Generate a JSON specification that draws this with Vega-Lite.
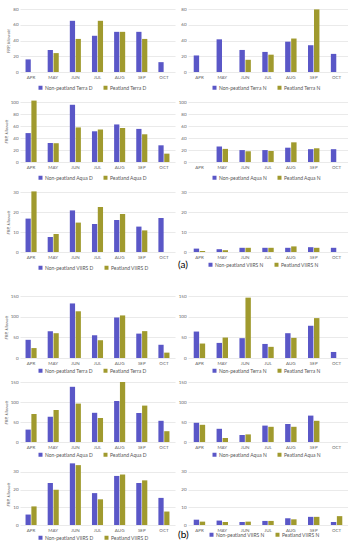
{
"$schema":"https://vega.github.io/schema/vega-lite/v6.json",
"background":"white",
"padding":{"left":3,"top":6,"right":0,"bottom":0},
"data":{"values":[
{"p":"aTD","m":"APR","s":"Non-peatland Terra D","v":16},{"p":"aTD","m":"MAY","s":"Non-peatland Terra D","v":28},{"p":"aTD","m":"JUN","s":"Non-peatland Terra D","v":65},{"p":"aTD","m":"JUL","s":"Non-peatland Terra D","v":46},{"p":"aTD","m":"AUG","s":"Non-peatland Terra D","v":51},{"p":"aTD","m":"SEP","s":"Non-peatland Terra D","v":51},{"p":"aTD","m":"OCT","s":"Non-peatland Terra D","v":12.5},
{"p":"aTD","m":"MAY","s":"Peatland Terra D","v":24},{"p":"aTD","m":"JUN","s":"Peatland Terra D","v":42},{"p":"aTD","m":"JUL","s":"Peatland Terra D","v":65},{"p":"aTD","m":"AUG","s":"Peatland Terra D","v":51},{"p":"aTD","m":"SEP","s":"Peatland Terra D","v":42},
{"p":"aTN","m":"APR","s":"Non-peatland Terra N","v":21},{"p":"aTN","m":"MAY","s":"Non-peatland Terra N","v":41.5},{"p":"aTN","m":"JUN","s":"Non-peatland Terra N","v":28},{"p":"aTN","m":"JUL","s":"Non-peatland Terra N","v":25.5},{"p":"aTN","m":"AUG","s":"Non-peatland Terra N","v":38.5},{"p":"aTN","m":"SEP","s":"Non-peatland Terra N","v":34},{"p":"aTN","m":"OCT","s":"Non-peatland Terra N","v":23},
{"p":"aTN","m":"JUN","s":"Peatland Terra N","v":15.5},{"p":"aTN","m":"JUL","s":"Peatland Terra N","v":22},{"p":"aTN","m":"AUG","s":"Peatland Terra N","v":42.5},{"p":"aTN","m":"SEP","s":"Peatland Terra N","v":79.5},
{"p":"aAD","m":"APR","s":"Non-peatland Aqua D","v":48.5},{"p":"aAD","m":"MAY","s":"Non-peatland Aqua D","v":32},{"p":"aAD","m":"JUN","s":"Non-peatland Aqua D","v":96},{"p":"aAD","m":"JUL","s":"Non-peatland Aqua D","v":51.5},{"p":"aAD","m":"AUG","s":"Non-peatland Aqua D","v":63},{"p":"aAD","m":"SEP","s":"Non-peatland Aqua D","v":55.5},{"p":"aAD","m":"OCT","s":"Non-peatland Aqua D","v":28},
{"p":"aAD","m":"APR","s":"Peatland Aqua D","v":103},{"p":"aAD","m":"MAY","s":"Peatland Aqua D","v":31.5},{"p":"aAD","m":"JUN","s":"Peatland Aqua D","v":58},{"p":"aAD","m":"JUL","s":"Peatland Aqua D","v":54.5},{"p":"aAD","m":"AUG","s":"Peatland Aqua D","v":57},{"p":"aAD","m":"SEP","s":"Peatland Aqua D","v":46.5},{"p":"aAD","m":"OCT","s":"Peatland Aqua D","v":14},
{"p":"aAN","m":"MAY","s":"Non-peatland Aqua N","v":26},{"p":"aAN","m":"JUN","s":"Non-peatland Aqua N","v":20},{"p":"aAN","m":"JUL","s":"Non-peatland Aqua N","v":20},{"p":"aAN","m":"AUG","s":"Non-peatland Aqua N","v":24},{"p":"aAN","m":"SEP","s":"Non-peatland Aqua N","v":21.5},{"p":"aAN","m":"OCT","s":"Non-peatland Aqua N","v":21.5},
{"p":"aAN","m":"MAY","s":"Peatland Aqua N","v":22},{"p":"aAN","m":"JUN","s":"Peatland Aqua N","v":18},{"p":"aAN","m":"JUL","s":"Peatland Aqua N","v":18.5},{"p":"aAN","m":"AUG","s":"Peatland Aqua N","v":33},{"p":"aAN","m":"SEP","s":"Peatland Aqua N","v":23},
{"p":"aVD","m":"APR","s":"Non-peatland VIIRS D","v":16.7},{"p":"aVD","m":"MAY","s":"Non-peatland VIIRS D","v":7.5},{"p":"aVD","m":"JUN","s":"Non-peatland VIIRS D","v":20.8},{"p":"aVD","m":"JUL","s":"Non-peatland VIIRS D","v":14},{"p":"aVD","m":"AUG","s":"Non-peatland VIIRS D","v":16},{"p":"aVD","m":"SEP","s":"Non-peatland VIIRS D","v":12.7},{"p":"aVD","m":"OCT","s":"Non-peatland VIIRS D","v":17},
{"p":"aVD","m":"APR","s":"Peatland VIIRS D","v":30.3},{"p":"aVD","m":"MAY","s":"Peatland VIIRS D","v":9},{"p":"aVD","m":"JUN","s":"Peatland VIIRS D","v":14.7},{"p":"aVD","m":"JUL","s":"Peatland VIIRS D","v":22.5},{"p":"aVD","m":"AUG","s":"Peatland VIIRS D","v":19},{"p":"aVD","m":"SEP","s":"Peatland VIIRS D","v":10.8},
{"p":"aVN","m":"APR","s":"Non-peatland VIIRS N","v":1.7},{"p":"aVN","m":"MAY","s":"Non-peatland VIIRS N","v":1.4},{"p":"aVN","m":"JUN","s":"Non-peatland VIIRS N","v":2.1},{"p":"aVN","m":"JUL","s":"Non-peatland VIIRS N","v":2.1},{"p":"aVN","m":"AUG","s":"Non-peatland VIIRS N","v":2.1},{"p":"aVN","m":"SEP","s":"Non-peatland VIIRS N","v":2.4},{"p":"aVN","m":"OCT","s":"Non-peatland VIIRS N","v":2.1},
{"p":"aVN","m":"APR","s":"Peatland VIIRS N","v":0.5},{"p":"aVN","m":"MAY","s":"Peatland VIIRS N","v":0.9},{"p":"aVN","m":"JUN","s":"Peatland VIIRS N","v":2.1},{"p":"aVN","m":"JUL","s":"Peatland VIIRS N","v":2.1},{"p":"aVN","m":"AUG","s":"Peatland VIIRS N","v":2.8},{"p":"aVN","m":"SEP","s":"Peatland VIIRS N","v":2.1},
{"p":"bTD","m":"APR","s":"Non-peatland Terra D","v":44},{"p":"bTD","m":"MAY","s":"Non-peatland Terra D","v":65},{"p":"bTD","m":"JUN","s":"Non-peatland Terra D","v":132},{"p":"bTD","m":"JUL","s":"Non-peatland Terra D","v":55},{"p":"bTD","m":"AUG","s":"Non-peatland Terra D","v":98},{"p":"bTD","m":"SEP","s":"Non-peatland Terra D","v":59},{"p":"bTD","m":"OCT","s":"Non-peatland Terra D","v":32},
{"p":"bTD","m":"APR","s":"Peatland Terra D","v":24},{"p":"bTD","m":"MAY","s":"Peatland Terra D","v":60},{"p":"bTD","m":"JUN","s":"Peatland Terra D","v":113},{"p":"bTD","m":"JUL","s":"Peatland Terra D","v":43},{"p":"bTD","m":"AUG","s":"Peatland Terra D","v":103},{"p":"bTD","m":"SEP","s":"Peatland Terra D","v":65},{"p":"bTD","m":"OCT","s":"Peatland Terra D","v":13},
{"p":"bTN","m":"APR","s":"Non-peatland Terra N","v":64},{"p":"bTN","m":"MAY","s":"Non-peatland Terra N","v":36.5},{"p":"bTN","m":"JUN","s":"Non-peatland Terra N","v":48},{"p":"bTN","m":"JUL","s":"Non-peatland Terra N","v":34},{"p":"bTN","m":"AUG","s":"Non-peatland Terra N","v":60},{"p":"bTN","m":"SEP","s":"Non-peatland Terra N","v":78},{"p":"bTN","m":"OCT","s":"Non-peatland Terra N","v":14.6},
{"p":"bTN","m":"APR","s":"Peatland Terra N","v":35},{"p":"bTN","m":"MAY","s":"Peatland Terra N","v":49.5},{"p":"bTN","m":"JUN","s":"Peatland Terra N","v":146},{"p":"bTN","m":"JUL","s":"Peatland Terra N","v":27},{"p":"bTN","m":"AUG","s":"Peatland Terra N","v":48.7},{"p":"bTN","m":"SEP","s":"Peatland Terra N","v":96.5},
{"p":"bAD","m":"APR","s":"Non-peatland Aqua D","v":31},{"p":"bAD","m":"MAY","s":"Non-peatland Aqua D","v":63},{"p":"bAD","m":"JUN","s":"Non-peatland Aqua D","v":138},{"p":"bAD","m":"JUL","s":"Non-peatland Aqua D","v":73},{"p":"bAD","m":"AUG","s":"Non-peatland Aqua D","v":102.5},{"p":"bAD","m":"SEP","s":"Non-peatland Aqua D","v":72.5},{"p":"bAD","m":"OCT","s":"Non-peatland Aqua D","v":53},
{"p":"bAD","m":"APR","s":"Peatland Aqua D","v":70},{"p":"bAD","m":"MAY","s":"Peatland Aqua D","v":80},{"p":"bAD","m":"JUN","s":"Peatland Aqua D","v":96},{"p":"bAD","m":"JUL","s":"Peatland Aqua D","v":60},{"p":"bAD","m":"AUG","s":"Peatland Aqua D","v":150},{"p":"bAD","m":"SEP","s":"Peatland Aqua D","v":91},{"p":"bAD","m":"OCT","s":"Peatland Aqua D","v":27},
{"p":"bAN","m":"APR","s":"Non-peatland Aqua N","v":48},{"p":"bAN","m":"MAY","s":"Non-peatland Aqua N","v":33},{"p":"bAN","m":"JUN","s":"Non-peatland Aqua N","v":17.5},{"p":"bAN","m":"JUL","s":"Non-peatland Aqua N","v":41},{"p":"bAN","m":"AUG","s":"Non-peatland Aqua N","v":45},{"p":"bAN","m":"SEP","s":"Non-peatland Aqua N","v":66},
{"p":"bAN","m":"APR","s":"Peatland Aqua N","v":43},{"p":"bAN","m":"MAY","s":"Peatland Aqua N","v":10},{"p":"bAN","m":"JUN","s":"Peatland Aqua N","v":19},{"p":"bAN","m":"JUL","s":"Peatland Aqua N","v":38},{"p":"bAN","m":"AUG","s":"Peatland Aqua N","v":38},{"p":"bAN","m":"SEP","s":"Peatland Aqua N","v":53},
{"p":"bVD","m":"APR","s":"Non-peatland VIIRS D","v":5.9},{"p":"bVD","m":"MAY","s":"Non-peatland VIIRS D","v":23.7},{"p":"bVD","m":"JUN","s":"Non-peatland VIIRS D","v":34.8},{"p":"bVD","m":"JUL","s":"Non-peatland VIIRS D","v":18},{"p":"bVD","m":"AUG","s":"Non-peatland VIIRS D","v":27.7},{"p":"bVD","m":"SEP","s":"Non-peatland VIIRS D","v":23.7},{"p":"bVD","m":"OCT","s":"Non-peatland VIIRS D","v":15.3},
{"p":"bVD","m":"APR","s":"Peatland VIIRS D","v":10.5},{"p":"bVD","m":"MAY","s":"Peatland VIIRS D","v":19.9},{"p":"bVD","m":"JUN","s":"Peatland VIIRS D","v":33.8},{"p":"bVD","m":"JUL","s":"Peatland VIIRS D","v":14.5},{"p":"bVD","m":"AUG","s":"Peatland VIIRS D","v":28.5},{"p":"bVD","m":"SEP","s":"Peatland VIIRS D","v":25.2},{"p":"bVD","m":"OCT","s":"Peatland VIIRS D","v":7.6},
{"p":"bVN","m":"APR","s":"Non-peatland VIIRS N","v":3},{"p":"bVN","m":"MAY","s":"Non-peatland VIIRS N","v":2.5},{"p":"bVN","m":"JUN","s":"Non-peatland VIIRS N","v":1.7},{"p":"bVN","m":"JUL","s":"Non-peatland VIIRS N","v":2.3},{"p":"bVN","m":"AUG","s":"Non-peatland VIIRS N","v":3.8},{"p":"bVN","m":"SEP","s":"Non-peatland VIIRS N","v":4.6},{"p":"bVN","m":"OCT","s":"Non-peatland VIIRS N","v":1.7},
{"p":"bVN","m":"APR","s":"Peatland VIIRS N","v":1.9},{"p":"bVN","m":"MAY","s":"Peatland VIIRS N","v":1.7},{"p":"bVN","m":"JUN","s":"Peatland VIIRS N","v":1.9},{"p":"bVN","m":"JUL","s":"Peatland VIIRS N","v":2.3},{"p":"bVN","m":"AUG","s":"Peatland VIIRS N","v":3.2},{"p":"bVN","m":"SEP","s":"Peatland VIIRS N","v":4.6},{"p":"bVN","m":"OCT","s":"Peatland VIIRS N","v":5}
]},
"vconcat":[
{"columns":2,"spacing":{"row":8,"column":3},
 "resolve":{"scale":{"x":"independent","y":"independent","xOffset":"independent","color":"independent"},"legend":{"color":"independent"}},
 "concat":[
  {"width":155,"height":63,"transform":[{"filter":"datum.p=='aTD'"}],"mark":"bar","encoding":{
   "x":{"field":"m","type":"nominal","title":null,"scale":{"domain":["APR","MAY","JUN","JUL","AUG","SEP","OCT"],"paddingInner":0.5,"paddingOuter":0.25}},
   "xOffset":{"field":"s","type":"nominal","scale":{"paddingInner":0.1}},
   "y":{"field":"v","type":"quantitative","title":"FRP, kilowatt","scale":{"domain":[0,80],"nice":false},"axis":{"values":[0,20,40,60,80]}},
   "color":{"field":"s","type":"nominal","scale":{"range":["#5a57c7","#a09a2e"]},"legend":{"orient":"none","direction":"horizontal","legendX":18,"legendY":76,"title":null}}}},
  {"width":160,"height":63,"transform":[{"filter":"datum.p=='aTN'"}],"mark":"bar","encoding":{
   "x":{"field":"m","type":"nominal","title":null,"scale":{"domain":["APR","MAY","JUN","JUL","AUG","SEP","OCT"],"paddingInner":0.5,"paddingOuter":0.25}},
   "xOffset":{"field":"s","type":"nominal","scale":{"paddingInner":0.1}},
   "y":{"field":"v","type":"quantitative","title":null,"scale":{"domain":[0,80],"nice":false},"axis":{"values":[0,20,40,60,80]}},
   "color":{"field":"s","type":"nominal","scale":{"range":["#5a57c7","#a09a2e"]},"legend":{"orient":"none","direction":"horizontal","legendX":24,"legendY":76,"title":null}}}},
  {"width":155,"height":62,"transform":[{"filter":"datum.p=='aAD'"}],"mark":"bar","encoding":{
   "x":{"field":"m","type":"nominal","title":null,"scale":{"domain":["APR","MAY","JUN","JUL","AUG","SEP","OCT"],"paddingInner":0.5,"paddingOuter":0.25}},
   "xOffset":{"field":"s","type":"nominal","scale":{"paddingInner":0.1}},
   "y":{"field":"v","type":"quantitative","title":"FRP, kilowatt","scale":{"domain":[0,104],"nice":false},"axis":{"values":[0,20,40,60,80,100]}},
   "color":{"field":"s","type":"nominal","scale":{"range":["#5a57c7","#a09a2e"]},"legend":{"orient":"none","direction":"horizontal","legendX":18,"legendY":75,"title":null}}}},
  {"width":160,"height":62,"transform":[{"filter":"datum.p=='aAN'"}],"mark":"bar","encoding":{
   "x":{"field":"m","type":"nominal","title":null,"scale":{"domain":["APR","MAY","JUN","JUL","AUG","SEP","OCT"],"paddingInner":0.5,"paddingOuter":0.25}},
   "xOffset":{"field":"s","type":"nominal","scale":{"paddingInner":0.1}},
   "y":{"field":"v","type":"quantitative","title":null,"scale":{"domain":[0,104],"nice":false},"axis":{"values":[0,20,40,60,80,100]}},
   "color":{"field":"s","type":"nominal","scale":{"range":["#5a57c7","#a09a2e"]},"legend":{"orient":"none","direction":"horizontal","legendX":24,"legendY":75,"title":null}}}},
  {"width":155,"height":60,"transform":[{"filter":"datum.p=='aVD'"}],"mark":"bar","encoding":{
   "x":{"field":"m","type":"nominal","title":null,"scale":{"domain":["APR","MAY","JUN","JUL","AUG","SEP","OCT"],"paddingInner":0.5,"paddingOuter":0.25}},
   "xOffset":{"field":"s","type":"nominal","scale":{"paddingInner":0.1}},
   "y":{"field":"v","type":"quantitative","title":"FRP, kilowatt","scale":{"domain":[0,30],"nice":false},"axis":{"values":[0,10,20,30]}},
   "color":{"field":"s","type":"nominal","scale":{"range":["#5a57c7","#a09a2e"]},"legend":{"orient":"none","direction":"horizontal","legendX":18,"legendY":73,"title":null}}}},
  {"width":160,"height":60,"transform":[{"filter":"datum.p=='aVN'"}],"mark":"bar","encoding":{
   "x":{"field":"m","type":"nominal","title":null,"scale":{"domain":["APR","MAY","JUN","JUL","AUG","SEP","OCT"],"paddingInner":0.5,"paddingOuter":0.25}},
   "xOffset":{"field":"s","type":"nominal","scale":{"paddingInner":0.1}},
   "y":{"field":"v","type":"quantitative","title":null,"scale":{"domain":[0,30],"nice":false},"axis":{"values":[0,10,20,30]}},
   "color":{"field":"s","type":"nominal","scale":{"range":["#5a57c7","#a09a2e"]},"legend":{"orient":"none","direction":"horizontal","legendX":-10,"legendY":70,"title":"(a)","titleOrient":"left","titleFontSize":10,"titleFontWeight":"normal","titleColor":"#000","titlePadding":20}}}}
 ]},
{"columns":2,"spacing":{"row":5,"column":3},
 "resolve":{"scale":{"x":"independent","y":"independent","xOffset":"independent","color":"independent"},"legend":{"color":"independent"}},
 "concat":[
  {"width":155,"height":62,"transform":[{"filter":"datum.p=='bTD'"}],"mark":"bar","encoding":{
   "x":{"field":"m","type":"nominal","title":null,"scale":{"domain":["APR","MAY","JUN","JUL","AUG","SEP","OCT"],"paddingInner":0.5,"paddingOuter":0.25}},
   "xOffset":{"field":"s","type":"nominal","scale":{"paddingInner":0.1}},
   "y":{"field":"v","type":"quantitative","title":"FRP, kilowatt","scale":{"domain":[0,150],"nice":false},"axis":{"values":[0,50,100,150]}},
   "color":{"field":"s","type":"nominal","scale":{"range":["#5a57c7","#a09a2e"]},"legend":{"orient":"none","direction":"horizontal","legendX":18,"legendY":72,"title":null}}}},
  {"width":160,"height":62,"transform":[{"filter":"datum.p=='bTN'"}],"mark":"bar","encoding":{
   "x":{"field":"m","type":"nominal","title":null,"scale":{"domain":["APR","MAY","JUN","JUL","AUG","SEP","OCT"],"paddingInner":0.5,"paddingOuter":0.25}},
   "xOffset":{"field":"s","type":"nominal","scale":{"paddingInner":0.1}},
   "y":{"field":"v","type":"quantitative","title":null,"scale":{"domain":[0,150],"nice":false},"axis":{"values":[0,50,100,150]}},
   "color":{"field":"s","type":"nominal","scale":{"range":["#5a57c7","#a09a2e"]},"legend":{"orient":"none","direction":"horizontal","legendX":24,"legendY":72,"title":null}}}},
  {"width":155,"height":60,"transform":[{"filter":"datum.p=='bAD'"}],"mark":"bar","encoding":{
   "x":{"field":"m","type":"nominal","title":null,"scale":{"domain":["APR","MAY","JUN","JUL","AUG","SEP","OCT"],"paddingInner":0.5,"paddingOuter":0.25}},
   "xOffset":{"field":"s","type":"nominal","scale":{"paddingInner":0.1}},
   "y":{"field":"v","type":"quantitative","title":"FRP, kilowatt","scale":{"domain":[0,150],"nice":false},"axis":{"values":[0,50,100,150]}},
   "color":{"field":"s","type":"nominal","scale":{"range":["#5a57c7","#a09a2e"]},"legend":{"orient":"none","direction":"horizontal","legendX":18,"legendY":70,"title":null}}}},
  {"width":160,"height":60,"transform":[{"filter":"datum.p=='bAN'"}],"mark":"bar","encoding":{
   "x":{"field":"m","type":"nominal","title":null,"scale":{"domain":["APR","MAY","JUN","JUL","AUG","SEP","OCT"],"paddingInner":0.5,"paddingOuter":0.25}},
   "xOffset":{"field":"s","type":"nominal","scale":{"paddingInner":0.1}},
   "y":{"field":"v","type":"quantitative","title":null,"scale":{"domain":[0,150],"nice":false},"axis":{"values":[0,50,100,150]}},
   "color":{"field":"s","type":"nominal","scale":{"range":["#5a57c7","#a09a2e"]},"legend":{"orient":"none","direction":"horizontal","legendX":24,"legendY":70,"title":null}}}},
  {"width":155,"height":62,"transform":[{"filter":"datum.p=='bVD'"}],"mark":"bar","encoding":{
   "x":{"field":"m","type":"nominal","title":null,"scale":{"domain":["APR","MAY","JUN","JUL","AUG","SEP","OCT"],"paddingInner":0.5,"paddingOuter":0.25}},
   "xOffset":{"field":"s","type":"nominal","scale":{"paddingInner":0.1}},
   "y":{"field":"v","type":"quantitative","title":"FRP, kilowatt","scale":{"domain":[0,35],"nice":false},"axis":{"values":[0,10,20,30]}},
   "color":{"field":"s","type":"nominal","scale":{"range":["#5a57c7","#a09a2e"]},"legend":{"orient":"none","direction":"horizontal","legendX":18,"legendY":72,"title":null}}}},
  {"width":160,"height":62,"transform":[{"filter":"datum.p=='bVN'"}],"mark":"bar","encoding":{
   "x":{"field":"m","type":"nominal","title":null,"scale":{"domain":["APR","MAY","JUN","JUL","AUG","SEP","OCT"],"paddingInner":0.5,"paddingOuter":0.25}},
   "xOffset":{"field":"s","type":"nominal","scale":{"paddingInner":0.1}},
   "y":{"field":"v","type":"quantitative","title":null,"scale":{"domain":[0,35],"nice":false},"axis":{"values":[0,10,20,30]}},
   "color":{"field":"s","type":"nominal","scale":{"range":["#5a57c7","#a09a2e"]},"legend":{"orient":"none","direction":"horizontal","legendX":-10,"legendY":69,"title":"(b)","titleOrient":"left","titleFontSize":10,"titleFontWeight":"normal","titleColor":"#000","titlePadding":20}}}}
 ]}
],
"spacing":22,
"config":{
 "font":"Lato",
 "view":{"stroke":null},
 "axis":{"labelFontSize":4.5,"labelColor":"#666","ticks":false,"domain":false,"gridColor":"#dcdcdc","gridWidth":0.6,"labelPadding":2,"titleFontSize":4.5,"titleFontStyle":"italic","titleFontWeight":"normal","titleColor":"#666","titlePadding":2},
 "axisX":{"grid":false,"labelAngle":0},
 "legend":{"labelFontSize":5,"labelColor":"#555","symbolType":"square","symbolSize":16,"columnPadding":10,"symbolStrokeWidth":0,"labelOffset":2}
}
}
